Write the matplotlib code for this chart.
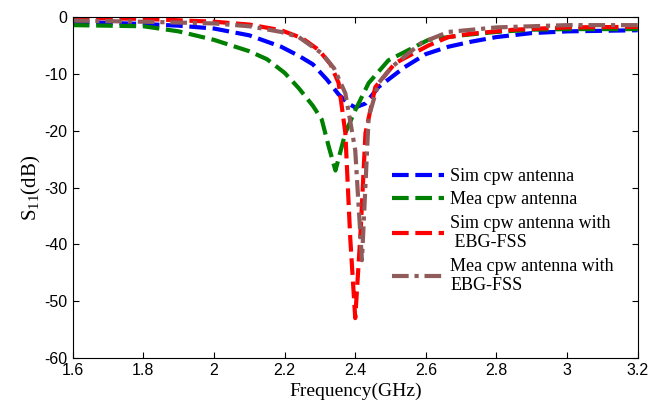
import numpy as np
import matplotlib
matplotlib.use('Agg')
import matplotlib.pyplot as plt

plt.rcParams['axes.unicode_minus'] = False
plt.rcParams['mathtext.fontset'] = 'custom'
plt.rcParams['mathtext.rm'] = 'Liberation Serif'
plt.rcParams['mathtext.it'] = 'Liberation Serif'

# S11 curves (GHz, dB)
sim_x = [1.6, 1.8, 1.9, 2.0, 2.1, 2.19, 2.24, 2.28, 2.32, 2.353, 2.38, 2.40, 2.429, 2.466, 2.54, 2.6, 2.664, 2.73, 2.8, 2.9, 3.0, 3.1, 3.2]
sim_y = [-0.8, -1.2, -1.5, -2.0, -3.2, -5.2, -6.8, -8.3, -11.0, -13.6, -15.2, -15.9, -15.2, -12.3, -8.8, -6.5, -5.2, -4.3, -3.5, -2.8, -2.5, -2.4, -2.3]

mea_x = [1.6, 1.8, 1.9, 2.0, 2.1, 2.15, 2.2, 2.24, 2.28, 2.305, 2.325, 2.344, 2.372, 2.40, 2.438, 2.494, 2.607, 2.7, 2.8, 2.9, 3.0, 3.1, 3.2]
mea_y = [-1.4, -1.6, -2.5, -4.0, -6.0, -7.4, -9.8, -12.5, -15.6, -18.0, -22.8, -27.0, -20.4, -16.4, -11.6, -7.6, -4.0, -3.2, -2.6, -2.2, -2.1, -2.1, -2.1]

sim_ebg_x = [1.6, 1.8, 2.0, 2.1, 2.19, 2.25, 2.297, 2.33, 2.353, 2.372, 2.386, 2.40, 2.415, 2.429, 2.457, 2.513, 2.607, 2.664, 2.73, 2.85, 3.0, 3.2]
sim_ebg_y = [-0.1, -0.3, -0.8, -1.3, -2.3, -3.7, -5.8, -8.3, -11.6, -20.4, -39.0, -53.0, -38.0, -20.4, -12.3, -8.1, -5.0, -3.5, -2.9, -2.2, -1.8, -1.7]

mea_ebg_x = [1.6, 1.8, 2.0, 2.1, 2.19, 2.24, 2.306, 2.34, 2.372, 2.40, 2.419, 2.438, 2.466, 2.503, 2.588, 2.664, 2.8, 3.0, 3.2]
mea_ebg_y = [-0.6, -0.8, -1.1, -1.6, -2.6, -3.5, -6.4, -9.0, -13.4, -23.4, -42.8, -17.6, -11.6, -8.8, -4.5, -2.6, -1.8, -1.4, -1.4]

labels = ['Sim cpw antenna', 'Mea cpw antenna', 'Sim cpw antenna with\n EBG-FSS', 'Mea cpw antenna with\nEBG-FSS']
xticks = [1.6, 1.8, 2, 2.2, 2.4, 2.6, 2.8, 3, 3.2]
xticklabels = ['1.6', '1.8', '2', '2.2', '2.4', '2.6', '2.8', '3', '3.2']
yticks = [0, -10, -20, -30, -40, -50, -60]

fig = plt.figure(figsize=(6.5, 4.09), dpi=100)
ax = fig.add_axes([0.112, 0.125, 0.869, 0.833])

lw = 3
ax.plot(sim_x, sim_y, color='#0000ff', lw=lw, ls=(0, (4, 1.6)), label=labels[0])
ax.plot(mea_x, mea_y, color='#008000', lw=lw, ls=(0, (4, 1.6)), label=labels[1])
ax.plot(sim_ebg_x, sim_ebg_y, color='#ff0000', lw=lw, ls=(0, (4, 1.6)), label=labels[2])
ax.plot(mea_ebg_x, mea_ebg_y, color='#8f5b5b', lw=lw, ls=(0, (4, 1.4, 1, 1.4)), label=labels[3])

ax.set_xlim(1.6, 3.2)
ax.set_ylim(-60, 0)
ax.set_xticks(xticks)
ax.set_xticklabels(xticklabels)
ax.set_yticks(yticks)
ax.tick_params(direction='in', length=4, labelsize=11.5, top=True, right=True, pad=4)
for lab in ax.get_xticklabels() + ax.get_yticklabels():
    lab.set_family('Liberation Sans')

ax.set_xlabel('Frequency(GHz)', family='Liberation Serif', fontsize=14, labelpad=3)
ax.set_ylabel(r'S$_{11}$(dB)', family='Liberation Serif', fontsize=15, labelpad=1)

leg = ax.legend(loc='upper left', bbox_to_anchor=(0.536, 0.605), frameon=False,
                handlelength=2.9, handletextpad=0.35, labelspacing=0.35,
                prop={'family': 'Liberation Serif', 'size': 13})

fig.savefig('out.png', dpi=100)
